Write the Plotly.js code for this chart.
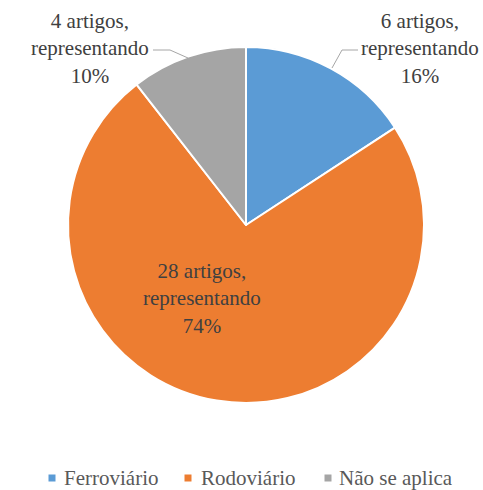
<!DOCTYPE html>
<html>
<head>
<meta charset="utf-8">
<script src="https://cdn.plot.ly/plotly-3.0.1.min.js"></script>
<style>html,body{margin:0;padding:0;background:#fff;}#chart{width:483px;height:490px;}</style>
</head>
<body>
<div id="chart"></div>
<script>
const categories = ["Ferroviário", "Rodoviário", "Não se aplica"];
const counts = [6, 28, 4];
const percents = [16, 74, 10];
const colors = ["#5B9BD5", "#ED7D31", "#A5A5A5"];

const W = 483, H = 490;
const px = x => x / W;
const py = y => 1 - y / H;
const cx = 246, cy = 225, R = 178;

const font = "Liberation Serif";
const labelPos = [
  {x: 420, y: 49},
  {x: 202, y: 298},
  {x: 90, y: 49}
];

const annotations = categories.map((c, i) => ({
  xref: "paper", yref: "paper",
  x: px(labelPos[i].x), y: py(labelPos[i].y),
  xanchor: "center", yanchor: "middle",
  showarrow: false,
  align: "center",
  text: counts[i] + " artigos,<br>representando<br>" + percents[i] + "%",
  font: {family: font, size: 21, color: "#404040"}
}));

// legend
const legendMarkerX = [52, 188, 328];
const legendTextX = [62, 199, 337];
const legendY = 478;
categories.forEach((c, i) => {
  annotations.push({
    xref: "paper", yref: "paper",
    x: px(legendTextX[i]), y: py(legendY),
    xanchor: "left", yanchor: "middle", showarrow: false,
    text: c, font: {family: font, size: 21, color: "#595959"}
  });
});

const shapes = categories.map((c, i) => ({
  type: "rect", xref: "paper", yref: "paper",
  x0: px(legendMarkerX[i] - 3.5), x1: px(legendMarkerX[i] + 3.5),
  y0: py(legendY + 3.5), y1: py(legendY - 3.5),
  fillcolor: colors[i], line: {width: 0}
}));

// leader lines
const leaders = [
  [[358, 50], [342, 50], [332, 68]],
  [[153, 50], [170, 50], [188, 58]]
];
leaders.forEach(pts => {
  for (let k = 0; k < pts.length - 1; k++) {
    shapes.push({
      type: "line", xref: "paper", yref: "paper",
      x0: px(pts[k][0]), y0: py(pts[k][1]),
      x1: px(pts[k+1][0]), y1: py(pts[k+1][1]),
      line: {color: "#A6A6A6", width: 1}
    });
  }
});

const data = [{
  type: "pie",
  labels: categories,
  values: counts,
  sort: false,
  direction: "clockwise",
  rotation: 0,
  textinfo: "none",
  hoverinfo: "skip",
  marker: {colors: colors, line: {color: "#FFFFFF", width: 2}},
  domain: {x: [px(cx - R), px(cx + R)], y: [py(cy + R), py(cy - R)]}
}];

const layout = {
  width: W, height: H,
  margin: {l: 0, r: 0, t: 0, b: 0},
  showlegend: false,
  paper_bgcolor: "#FFFFFF",
  font: {family: font},
  annotations: annotations,
  shapes: shapes
};

Plotly.newPlot("chart", data, layout, {staticPlot: true, displayModeBar: false});
</script>
</body>
</html>
